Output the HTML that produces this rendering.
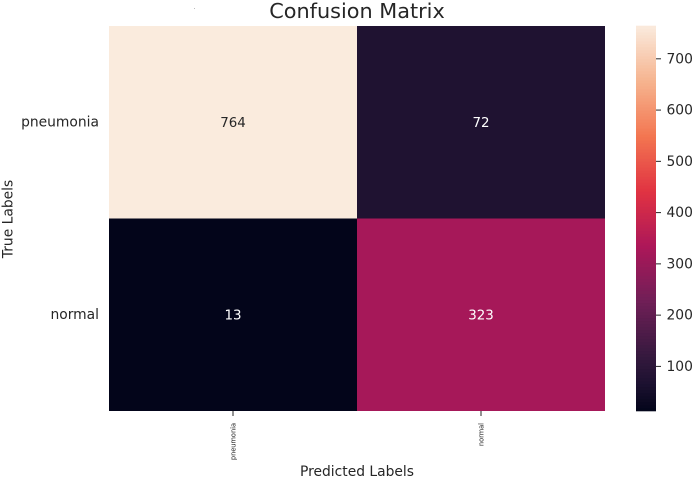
<!DOCTYPE html>
<html>
<head>
<meta charset="utf-8">
<title>Confusion Matrix</title>
<style>
html,body{margin:0;padding:0;background:#fff;width:694px;height:481px;overflow:hidden}
svg{display:block}
text{font-family:"DejaVu Sans","Liberation Sans",sans-serif;fill:#262626}
</style>
</head>
<body>
<svg id="chart" xmlns="http://www.w3.org/2000/svg" width="694" height="481" viewBox="0 0 694 481">
  <rect width="694" height="481" fill="#fff"/>
  <rect x="194" y="8" width="1" height="1" fill="#bbb"/>
  <text x="357" y="18" text-anchor="middle" font-size="20.8">Confusion Matrix</text>
  <text x="357" y="476" text-anchor="middle" font-size="13.85">Predicted Labels</text>
  <text transform="translate(12.5,219) rotate(-90)" text-anchor="middle" font-size="13.85">True Labels</text>
  <g id="cells"></g>
  <g id="xticks"></g>
  <g id="yticks"></g>
  <g id="cbar"></g>
</svg>
<script>
const categories = ["pneumonia", "normal"];
const row0Values = [764, 72];
const row1Values = [13, 323];
const colorbarTicks = [100, 200, 300, 400, 500, 600, 700];

const NS = "http://www.w3.org/2000/svg";
const plot = {left: 109, right: 605, top: 26, bottom: 411};
const bar = {left: 636, right: 656, top: 26, bottom: 411};
const matrix = [row0Values, row1Values];
const allValues = matrix.flat();
const vmin = Math.min(...allValues);
const vmax = Math.max(...allValues);

const cmapStops = [
  [0, "#03051a"], [0.071, "#1c1130"], [0.143, "#35193e"], [0.286, "#701f57"],
  [0.429, "#ad1759"], [0.571, "#e13342"], [0.714, "#f37651"], [0.857, "#f6b48f"], [1, "#faebdd"]
];
function hexToRgb(h) {
  return [1, 3, 5].map(i => parseInt(h.slice(i, i + 2), 16));
}
function cmap(t) {
  t = Math.max(0, Math.min(1, t));
  for (let i = 1; i < cmapStops.length; i++) {
    if (t <= cmapStops[i][0]) {
      const a = cmapStops[i - 1], b = cmapStops[i];
      const f = (t - a[0]) / (b[0] - a[0]);
      const ca = hexToRgb(a[1]), cb = hexToRgb(b[1]);
      return "rgb(" + ca.map((v, k) => Math.round(v + (cb[k] - v) * f)).join(",") + ")";
    }
  }
  return cmapStops[cmapStops.length - 1][1];
}
function norm(v) { return (v - vmin) / (vmax - vmin); }
function xBand(i) { return plot.left + (plot.right - plot.left) * i / categories.length; }
function yBand(i) { return plot.top + (plot.bottom - plot.top) * i / categories.length; }
function cbarY(v) { return bar.bottom - norm(v) * (bar.bottom - bar.top); }

function make(tag, attrs, parent, txt) {
  const el = document.createElementNS(NS, tag);
  for (const k in attrs) el.setAttribute(k, attrs[k]);
  if (txt !== undefined) el.textContent = txt;
  parent.appendChild(el);
  return el;
}

const cellsG = document.getElementById("cells");
matrix.forEach((row, r) => {
  row.forEach((v, c) => {
    const x0 = xBand(c), x1 = xBand(c + 1), y0 = yBand(r), y1 = yBand(r + 1);
    const rect = make("rect", {x: x0, y: y0, width: x1 - x0, height: y1 - y0, fill: cmap(norm(v))}, cellsG);
    
    
    const label = make("text", {x: (x0 + x1) / 2, y: (y0 + y1) / 2 + 4.5, "text-anchor": "middle", "font-size": "13.4"}, cellsG, String(v));
    label.style.fill = norm(v) > 0.6 ? "#262626" : "#ffffff";
    
    
  });
});

const xG = document.getElementById("xticks");
categories.forEach((name, i) => {
  const x = (xBand(i) + xBand(i + 1)) / 2;
  const tick = make("line", {x1: x, x2: x, y1: plot.bottom, y2: plot.bottom + 5, stroke: "#262626", "stroke-width": 1}, xG);
  
  
  const label = make("text", {transform: "translate(" + (x + 2.3) + "," + (plot.bottom + 12) + ") rotate(-90)", "text-anchor": "end", "font-size": "6.6"}, xG, name);
  
  
});

const yG = document.getElementById("yticks");
categories.forEach((name, i) => {
  const y = (yBand(i) + yBand(i + 1)) / 2;
  const tick = make("line", {x1: plot.left - 5, x2: plot.left, y1: y, y2: y, stroke: "#fff", "stroke-width": 0}, yG);
  
  
  const label = make("text", {x: plot.left - 10, y: y + 4, "text-anchor": "end", "font-size": "13.85"}, yG, name);
  
  
});

const cbarG = document.getElementById("cbar");
const barSteps = 128;
for (let i = 0; i < barSteps; i++) {
  const h = (bar.bottom - bar.top) / barSteps;
  const seg = make("rect", {x: bar.left, y: bar.bottom - (i + 1) * h - 0.3, width: bar.right - bar.left, height: h + 0.6, fill: cmap((i + 0.5) / barSteps)}, cbarG);
  
  
}
colorbarTicks.forEach(v => {
  const y = cbarY(v);
  const tick = make("line", {x1: bar.right, x2: bar.right + 5, y1: y, y2: y, stroke: "#262626", "stroke-width": 1}, cbarG);
  
  
  const label = make("text", {x: bar.right + 10.5, y: y + 4.5, "font-size": "13.85"}, cbarG, String(v));
  
  
});
</script>
</body>
</html>
